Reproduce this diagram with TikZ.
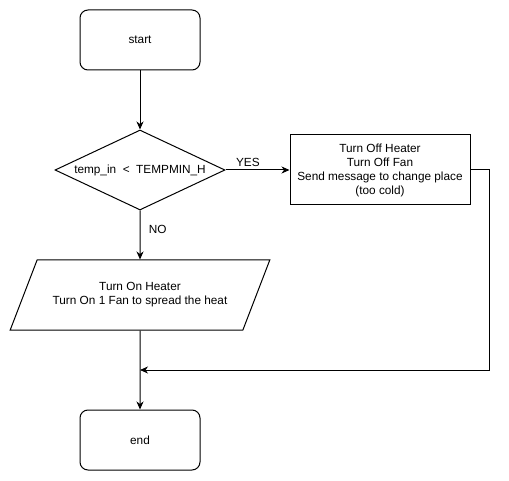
\documentclass[tikz,border=0pt]{standalone}
\usepackage{fontspec}
\setmainfont{Liberation Sans}
\usetikzlibrary{arrows.meta, shapes.geometric}

\begin{document}
\begin{tikzpicture}[x=1pt, y=-1pt,
  term/.style={draw, rectangle, rounded corners=8pt, minimum width=120pt, minimum height=60pt,
               text centered},
  dec/.style={draw, diamond, aspect=2.125, inner sep=0pt, minimum width=170pt, minimum height=80pt},
  proc/.style={draw, rectangle, minimum width=180pt, minimum height=70pt, align=center},
  io/.style={draw, trapezium, trapezium left angle=52.9, trapezium right angle=127.1,
             trapezium stretches=true, minimum width=260pt, minimum height=70pt, align=center},
  arr/.style={-{Stealth[length=8pt, width=7pt, inset=2.5pt]}},
  lbl/.style={font=\fontsize{11.8}{14}\selectfont},
  every node/.style={font=\fontsize{11.8}{14}\selectfont, line width=1pt},
  line width=1pt
]
  \useasboundingbox (0,0) rectangle (509,481);

  \node[term] (start) at (140,40)  {start};
  \node[dec]  (test)  at (140,170) {temp\_in \ < \ TEMPMIN\_H};
  \node[proc] (off)   at (380,170) {Turn Off Heater\\Turn Off Fan\\Send message to change place\\(too cold)};
  \node[io]   (on)    at (140,295) {Turn On Heater\\Turn On 1 Fan to spread the heat};
  \node[term] (end)   at (140,440) {end};
  \coordinate (merge) at (140,370);

  \draw[arr] (start) -- (test);
  \draw[arr] (test.east) -- node[lbl, above, pos=0.35]{YES} (off.west);
  \draw[arr] (test.south) -- node[lbl, right, pos=0.38, xshift=5pt]{NO} (on.north);
  \draw[arr] (on.south) -- (end.north);
  \draw[arr] (off.east) -- ++(19,0) |- (merge);
\end{tikzpicture}
\end{document}
